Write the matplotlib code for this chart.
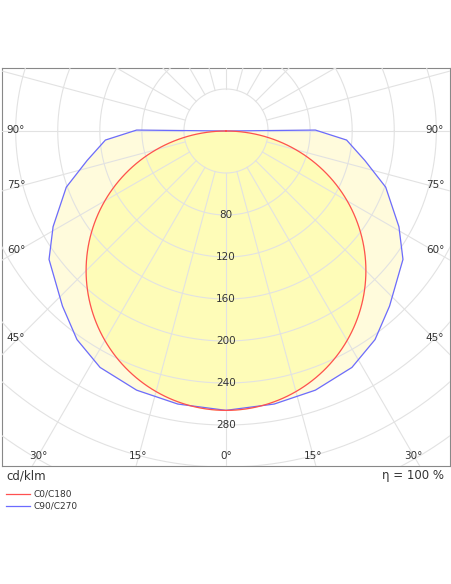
import numpy as np
import matplotlib
matplotlib.use("Agg")
from matplotlib import pyplot as plt

# intensidades (cd/klm)
ang_c0 = [0, 10, 20, 30, 40, 50, 60, 70, 80, 90]
cd_c0 = [266, 262, 250, 230, 204, 171, 133, 91, 46, 0]

ang_c90 = [0, 10, 19, 28, 35.5, 43, 54, 61, 70.6, 78, 85.7, 90.6, 90]
cd_c90 = [266, 264, 261, 255, 244, 228, 208, 188, 161, 135, 115, 85, 0]

radial_labels = [80, 120, 160, 200, 240, 280]

def xy(ang, r, lado=1):
    a = np.radians(np.asarray(ang, float))
    r = np.asarray(r, float)
    return lado * r * np.sin(a), -r * np.cos(a)

def suave(ang, r):
    # curva suave entre os valores lidos (só para desenho)
    from numpy.polynomial import polynomial as P
    a = np.linspace(0, 90, 181)
    x, y = xy(ang, r)
    # circunferência: r(θ) segue ~cosθ, interpola no plano
    rr = np.interp(a, ang, r)
    c = np.polyfit(np.radians(ang), r, 4)
    return a, np.clip(np.polyval(c, np.radians(a)), 0, None)

def curva(ang, r):
    xr, yr = xy(ang, r, 1)
    xl, yl = xy(ang, r, -1)
    return np.concatenate([xl[::-1], xr]), np.concatenate([yl[::-1], yr])

fig = plt.figure(figsize=(4.52, 5.84), dpi=100)
ax = fig.add_axes([2/452, (584-466)/584, 448/452, 398/584])
ax.set_xlim(-213, 213)
ax.set_ylim(-319, 60)
ax.set_xticks([]); ax.set_yticks([])
for s in ax.spines.values():
    s.set_color('#888888'); s.set_linewidth(0.8)

bx, by = curva(ang_c90, cd_c90)
ra, rr = suave(ang_c0, cd_c0)
rx, ry = curva(ra, rr)
ax.fill(bx, by, color='#fffbdc', zorder=1)
ax.fill(rx, ry, color='#fefcb8', zorder=2)

# grade polar
t = np.linspace(0, 2*np.pi, 400)
for r in range(40, 480, 40):
    ax.plot(r*np.cos(t), r*np.sin(t), color='#e2e2e2', lw=0.8, zorder=3)
for a in range(0, 360, 15):
    x0, y0 = xy(a, 40); x1, y1 = xy(a, 600)
    ax.plot([x0, x1], [y0, y1], color='#e2e2e2', lw=0.8, zorder=3)

ax.plot(bx, by, color='#6b6bff', lw=0.9, zorder=4)
ax.plot(rx, ry, color='#ff5050', lw=0.9, zorder=5)

for v in radial_labels:
    ax.text(0, -v, str(v), ha='center', va='center', fontsize=7.5, color='#333333', zorder=6)

# rótulos de ângulo
def tp(px, py):
    return (px - 2) / 448, (466 - py) / 398
for txt, py in [('90°', 130), ('75°', 185), ('60°', 250), ('45°', 338)]:
    ax.text(*tp(16, py), txt, transform=ax.transAxes, ha='center', va='center', fontsize=7.5, color='#333333')
    ax.text(*tp(435, py), txt, transform=ax.transAxes, ha='center', va='center', fontsize=7.5, color='#333333')
for txt, px in [('30°', 38), ('15°', 138), ('0°', 226), ('15°', 313), ('30°', 413)]:
    ax.text(*tp(px, 456), txt, transform=ax.transAxes, ha='center', va='center', fontsize=7.5, color='#333333')

fig.text(6/452, 1 - 476/584, 'cd/klm', ha='left', va='center', fontsize=8.5, color='#333333')
fig.text(444/452, 1 - 476/584, 'η = 100 %', ha='right', va='center', fontsize=8.5, color='#333333')
for i, (lab, c) in enumerate([('C0/C180', '#ff5050'), ('C90/C270', '#6b6bff')]):
    yy = 1 - (494 + 12*i)/584
    fig.add_artist(plt.Line2D([6/452, 30/452], [yy, yy], color=c, lw=0.9))
    fig.text(33/452, yy, lab, ha='left', va='center', fontsize=6.5, color='#333333')

fig.savefig('out.png', dpi=100)
